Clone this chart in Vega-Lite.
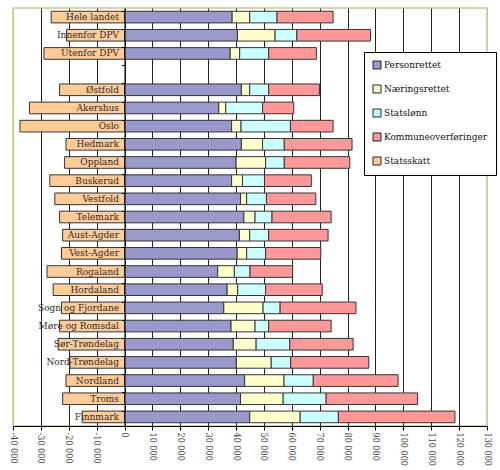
{
  "$schema": "https://vega.github.io/schema/vega-lite/v6.json",
  "width": 474,
  "height": 418,
  "autosize": {"type": "none"},
  "padding": {"left": 13, "top": 8, "right": 13, "bottom": 44},
  "background": "white",
  "config": {
    "view": {"stroke": "#c8c88c", "strokeWidth": 1.5},
    "font": "DejaVu Serif Condensed",
    "style": {"guide-label": {"font": "DejaVu Serif Condensed"}}
  },
  "data": {
    "values": [
      {"region": "Hele landet", "type": "Personrettet", "value": 38600},
      {"region": "Hele landet", "type": "Næringsrettet", "value": 6300},
      {"region": "Hele landet", "type": "Statslønn", "value": 9800},
      {"region": "Hele landet", "type": "Kommuneoverføringer", "value": 20100},
      {"region": "Hele landet", "type": "Statsskatt", "value": -26300},
      {"region": "Innenfor DPV", "type": "Personrettet", "value": 40500},
      {"region": "Innenfor DPV", "type": "Næringsrettet", "value": 13500},
      {"region": "Innenfor DPV", "type": "Statslønn", "value": 7800},
      {"region": "Innenfor DPV", "type": "Kommuneoverføringer", "value": 26400},
      {"region": "Innenfor DPV", "type": "Statsskatt", "value": -20800},
      {"region": "Utenfor DPV", "type": "Personrettet", "value": 37900},
      {"region": "Utenfor DPV", "type": "Næringsrettet", "value": 3400},
      {"region": "Utenfor DPV", "type": "Statslønn", "value": 10400},
      {"region": "Utenfor DPV", "type": "Kommuneoverføringer", "value": 17100},
      {"region": "Utenfor DPV", "type": "Statsskatt", "value": -28900},
      {"region": "Østfold", "type": "Personrettet", "value": 41900},
      {"region": "Østfold", "type": "Næringsrettet", "value": 3000},
      {"region": "Østfold", "type": "Statslønn", "value": 6800},
      {"region": "Østfold", "type": "Kommuneoverføringer", "value": 18200},
      {"region": "Østfold", "type": "Statsskatt", "value": -23300},
      {"region": "Akershus", "type": "Personrettet", "value": 33800},
      {"region": "Akershus", "type": "Næringsrettet", "value": 2500},
      {"region": "Akershus", "type": "Statslønn", "value": 13200},
      {"region": "Akershus", "type": "Kommuneoverføringer", "value": 11200},
      {"region": "Akershus", "type": "Statsskatt", "value": -34100},
      {"region": "Oslo", "type": "Personrettet", "value": 38400},
      {"region": "Oslo", "type": "Næringsrettet", "value": 3400},
      {"region": "Oslo", "type": "Statslønn", "value": 17700},
      {"region": "Oslo", "type": "Kommuneoverføringer", "value": 15300},
      {"region": "Oslo", "type": "Statsskatt", "value": -37500},
      {"region": "Hedmark", "type": "Personrettet", "value": 41900},
      {"region": "Hedmark", "type": "Næringsrettet", "value": 7600},
      {"region": "Hedmark", "type": "Statslønn", "value": 7800},
      {"region": "Hedmark", "type": "Kommuneoverføringer", "value": 24300},
      {"region": "Hedmark", "type": "Statsskatt", "value": -21000},
      {"region": "Oppland", "type": "Personrettet", "value": 40000},
      {"region": "Oppland", "type": "Næringsrettet", "value": 10600},
      {"region": "Oppland", "type": "Statslønn", "value": 6700},
      {"region": "Oppland", "type": "Kommuneoverføringer", "value": 23500},
      {"region": "Oppland", "type": "Statsskatt", "value": -21500},
      {"region": "Buskerud", "type": "Personrettet", "value": 38400},
      {"region": "Buskerud", "type": "Næringsrettet", "value": 3900},
      {"region": "Buskerud", "type": "Statslønn", "value": 7900},
      {"region": "Buskerud", "type": "Kommuneoverføringer", "value": 16800},
      {"region": "Buskerud", "type": "Statsskatt", "value": -26800},
      {"region": "Vestfold", "type": "Personrettet", "value": 41600},
      {"region": "Vestfold", "type": "Næringsrettet", "value": 2200},
      {"region": "Vestfold", "type": "Statslønn", "value": 7100},
      {"region": "Vestfold", "type": "Kommuneoverføringer", "value": 17700},
      {"region": "Vestfold", "type": "Statsskatt", "value": -25000},
      {"region": "Telemark", "type": "Personrettet", "value": 42800},
      {"region": "Telemark", "type": "Næringsrettet", "value": 4000},
      {"region": "Telemark", "type": "Statslønn", "value": 6100},
      {"region": "Telemark", "type": "Kommuneoverføringer", "value": 21200},
      {"region": "Telemark", "type": "Statsskatt", "value": -23300},
      {"region": "Aust-Agder", "type": "Personrettet", "value": 41200},
      {"region": "Aust-Agder", "type": "Næringsrettet", "value": 3700},
      {"region": "Aust-Agder", "type": "Statslønn", "value": 6800},
      {"region": "Aust-Agder", "type": "Kommuneoverføringer", "value": 21300},
      {"region": "Aust-Agder", "type": "Statsskatt", "value": -22200},
      {"region": "Vest-Agder", "type": "Personrettet", "value": 40400},
      {"region": "Vest-Agder", "type": "Næringsrettet", "value": 3400},
      {"region": "Vest-Agder", "type": "Statslønn", "value": 6800},
      {"region": "Vest-Agder", "type": "Kommuneoverføringer", "value": 19800},
      {"region": "Vest-Agder", "type": "Statsskatt", "value": -22600},
      {"region": "Rogaland", "type": "Personrettet", "value": 33400},
      {"region": "Rogaland", "type": "Næringsrettet", "value": 6000},
      {"region": "Rogaland", "type": "Statslønn", "value": 5600},
      {"region": "Rogaland", "type": "Kommuneoverføringer", "value": 15300},
      {"region": "Rogaland", "type": "Statsskatt", "value": -27800},
      {"region": "Hordaland", "type": "Personrettet", "value": 36800},
      {"region": "Hordaland", "type": "Næringsrettet", "value": 3800},
      {"region": "Hordaland", "type": "Statslønn", "value": 10000},
      {"region": "Hordaland", "type": "Kommuneoverføringer", "value": 20300},
      {"region": "Hordaland", "type": "Statsskatt", "value": -25600},
      {"region": "Sogn og Fjordane", "type": "Personrettet", "value": 35600},
      {"region": "Sogn og Fjordane", "type": "Næringsrettet", "value": 14100},
      {"region": "Sogn og Fjordane", "type": "Statslønn", "value": 6100},
      {"region": "Sogn og Fjordane", "type": "Kommuneoverføringer", "value": 27200},
      {"region": "Sogn og Fjordane", "type": "Statsskatt", "value": -22600},
      {"region": "Møre og Romsdal", "type": "Personrettet", "value": 38200},
      {"region": "Møre og Romsdal", "type": "Næringsrettet", "value": 8600},
      {"region": "Møre og Romsdal", "type": "Statslønn", "value": 4900},
      {"region": "Møre og Romsdal", "type": "Kommuneoverføringer", "value": 22400},
      {"region": "Møre og Romsdal", "type": "Statsskatt", "value": -23300},
      {"region": "Sør-Trøndelag", "type": "Personrettet", "value": 39000},
      {"region": "Sør-Trøndelag", "type": "Næringsrettet", "value": 8200},
      {"region": "Sør-Trøndelag", "type": "Statslønn", "value": 12100},
      {"region": "Sør-Trøndelag", "type": "Kommuneoverføringer", "value": 22700},
      {"region": "Sør-Trøndelag", "type": "Statsskatt", "value": -23800},
      {"region": "Nord-Trøndelag", "type": "Personrettet", "value": 40100},
      {"region": "Nord-Trøndelag", "type": "Næringsrettet", "value": 12500},
      {"region": "Nord-Trøndelag", "type": "Statslønn", "value": 7000},
      {"region": "Nord-Trøndelag", "type": "Kommuneoverføringer", "value": 28000},
      {"region": "Nord-Trøndelag", "type": "Statsskatt", "value": -19600},
      {"region": "Nordland", "type": "Personrettet", "value": 43100},
      {"region": "Nordland", "type": "Næringsrettet", "value": 14100},
      {"region": "Nordland", "type": "Statslønn", "value": 10500},
      {"region": "Nordland", "type": "Kommuneoverføringer", "value": 30400},
      {"region": "Nordland", "type": "Statsskatt", "value": -21000},
      {"region": "Troms", "type": "Personrettet", "value": 41600},
      {"region": "Troms", "type": "Næringsrettet", "value": 15300},
      {"region": "Troms", "type": "Statslønn", "value": 15400},
      {"region": "Troms", "type": "Kommuneoverføringer", "value": 32800},
      {"region": "Troms", "type": "Statsskatt", "value": -22200},
      {"region": "Finnmark", "type": "Personrettet", "value": 44900},
      {"region": "Finnmark", "type": "Næringsrettet", "value": 18100},
      {"region": "Finnmark", "type": "Statslønn", "value": 13700},
      {"region": "Finnmark", "type": "Kommuneoverføringer", "value": 41800},
      {"region": "Finnmark", "type": "Statsskatt", "value": -15200}
    ]
  },
  "transform": [
    {"calculate": "indexof(['Personrettet','Næringsrettet','Statslønn','Kommuneoverføringer','Statsskatt'], datum.type)", "as": "ord"}
  ],
  "mark": {"type": "bar", "stroke": "#333333", "strokeWidth": 1},
  "encoding": {
    "y": {
      "field": "region",
      "type": "nominal",
      "scale": {
        "domain": ["Hele landet", "Innenfor DPV", "Utenfor DPV", " ", "Østfold", "Akershus", "Oslo", "Hedmark", "Oppland", "Buskerud", "Vestfold", "Telemark", "Aust-Agder", "Vest-Agder", "Rogaland", "Hordaland", "Sogn og Fjordane", "Møre og Romsdal", "Sør-Trøndelag", "Nord-Trøndelag", "Nordland", "Troms", "Finnmark"],
        "paddingInner": 0.36,
        "paddingOuter": 0.18
      },
      "axis": {
        "title": null,
        "offset": -111.5,
        "zindex": 1,
        "domainColor": "black",
        "tickColor": "black",
        "tickSize": 3,
        "bandPosition": 0,
        "labelFont": "DejaVu Serif Condensed",
        "labelFontSize": 10,
        "labelColor": "#2a2a2a",
        "labelPadding": 3
      }
    },
    "x": {
      "field": "value",
      "type": "quantitative",
      "stack": "zero",
      "scale": {"domain": [-40000, 130000], "nice": false},
      "axis": {
        "title": null,
        "values": [-40000, -30000, -20000, -10000, 0, 10000, 20000, 30000, 40000, 50000, 60000, 70000, 80000, 90000, 100000, 110000, 120000, 130000],
        "grid": true,
        "gridColor": {"condition": {"test": "datum.value == -40000 || datum.value == 130000", "value": "#c8c88c"}, "value": "#222222"},
        "gridOpacity": 1,
        "labelAngle": 90,
        "labelExpr": "(datum.value < 0 ? '-' : '') + replace(format(abs(datum.value), ',d'), ',', ' ')",
        "labelFont": "DejaVu Serif Condensed",
        "labelFontSize": 9,
        "labelColor": "#444444",
        "domainColor": "black",
        "tickColor": "black",
        "tickSize": 4
      }
    },
    "color": {
      "field": "type",
      "type": "nominal",
      "scale": {
        "domain": ["Personrettet", "Næringsrettet", "Statslønn", "Kommuneoverføringer", "Statsskatt"],
        "range": ["#9999cc", "#ffffcc", "#ccffff", "#ff9999", "#ffcc99"]
      },
      "legend": {
        "title": null,
        "orient": "none",
        "legendX": 351,
        "legendY": 44,
        "fillColor": "white",
        "strokeColor": "black",
        "padding": 8,
        "symbolType": "square",
        "symbolSize": 64,
        "symbolStrokeColor": "#222222",
        "symbolStrokeWidth": 1,
        "labelFont": "DejaVu Serif Condensed",
        "labelFontSize": 10,
        "labelColor": "#111111",
        "labelOffset": 2,
        "rowPadding": 12,
        "labelLimit": 200,
        "labelFontWeight": "normal"
      }
    },
    "order": {"field": "ord", "type": "quantitative"}
  }
}
